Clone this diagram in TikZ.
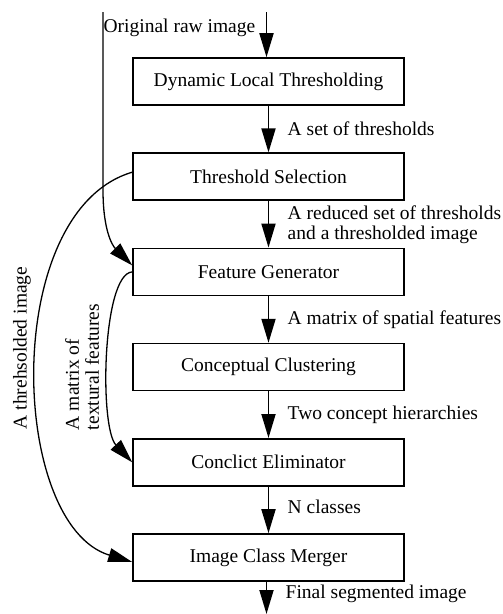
\documentclass[tikz,border=0pt]{standalone}
\usepackage{fontspec}
\setmainfont{Liberation Serif}
\usetikzlibrary{positioning,arrows.meta}

\begin{document}
\begin{tikzpicture}[x=1pt,y=-1pt,
	font=\fontsize{19.5}{20}\selectfont,
	node distance=46.6pt,
	stage/.style={draw,line width=1.6pt,minimum width=271pt,minimum height=47pt},
	flow/.style={-{Triangle[length=24pt,width=14pt]},line width=1.8pt},
	side/.style={flow,line width=1.3pt}]
	\useasboundingbox (0,0) rectangle (503,614);
	\coordinate (src) at (266.5,12);
	\coordinate (raw) at (103,12);
	\coordinate (out) at (266.5,614);

	\node[stage] (dlt) at (268.5,81.5) {Dynamic Local Thresholding};
	\node[stage, below=of dlt] (sel) {Threshold Selection};
	\node[stage, below=of sel] (fg) {Feature Generator};
	\node[stage, below=of fg] (cc) {Conceptual Clustering};
	\node[stage, below=of cc] (ce) {Conclict Eliminator};
	\node[stage, below=of ce] (icm) {Image Class Merger};

	\draw[flow] (src) -- (src |- dlt.north) node[pos=0.36,left=7pt] {Original raw image};
	\draw[flow] (dlt) -- (sel) node[midway,right=15pt] {A set of thresholds};
	\draw[flow] (sel) -- (fg) node[midway,right=15pt,align=left] {A reduced set of thresholds\\and a thresholded image};
	\draw[flow] (fg) -- (cc) node[midway,right=15pt] {A matrix of spatial features};
	\draw[flow] (cc) -- (ce) node[midway,right=15pt] {Two concept hierarchies};
	\draw[flow] (ce) -- (icm) node[midway,right=15pt,yshift=3pt] {N classes};
	\draw[flow] (icm.south -| out) -- (out) node[midway,right=15pt,yshift=4pt] {Final segmented image};

	% side paths
	\draw[side] (raw) -- ++(0,178) .. controls +(0,40) and +(-20,-20) .. ([yshift=6.5pt]fg.west);
	\draw[side] ([yshift=4.5pt]sel.west) .. controls +(-132,39) and +(-123,-37) .. ([yshift=-4.5pt]icm.west);
	\draw[side] (fg.west) .. controls +(-30,2) and +(-33,-35) .. (ce.west);

	\node[rotate=90] (thr) at (22,348) {A threhsolded image};
	\node[rotate=90,align=left] (tex) at (82,367) {A matrix of\\textural features};
\end{tikzpicture}
\end{document}
